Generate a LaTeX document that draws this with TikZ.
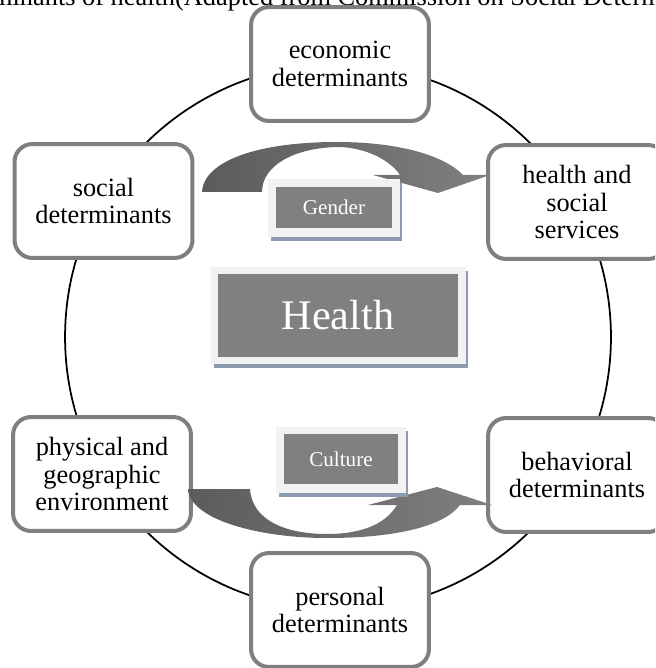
\documentclass[tikz,border=0pt]{standalone}
\usepackage{fontspec}
\setmainfont{Liberation Serif}
\usetikzlibrary{shadows}

\definecolor{boxgray}{HTML}{7F7F7F}
\definecolor{tagfill}{HTML}{808080}
\definecolor{tagframe}{HTML}{F2F2F2}
\definecolor{tagshadow}{HTML}{8D9BB0}

\begin{document}
\begin{tikzpicture}[x=0.02cm, y=-0.02cm,
  det/.style={draw=boxgray, line width=0.08cm, fill=white, rounded corners=0.36cm,
    minimum width=3.56cm, minimum height=2.28cm, inner sep=0pt, align=center,
    font=\fontsize{15}{15.5}\selectfont},
  frame/.style={fill=tagframe, inner sep=0pt,
    drop shadow={fill=tagshadow, opacity=1, shadow xshift=0.05cm, shadow yshift=-0.08cm}},
  tag/.style={fill=tagfill, text=white, inner sep=0pt, font=\fontsize{12}{14}\selectfont},
  arrowshade/.style={left color=black!64, middle color=black!56, right color=black!50}]
\useasboundingbox (0,0) rectangle (655,668);
\clip (0,0) rectangle (655,668);

\node[anchor=base, font=\fontsize{15}{15.5}\selectfont](title) at (327,6) {minants of health(Adapted from Commission on Social Determ};

\node[draw, circle, line width=1pt, minimum size=10.92cm](ring) at (338,337) {};

\node[det](econ) at (340,64) {economic\\determinants};
\node[det](soc) at (103.5,201) {social\\determinants};
\node[det](hss) at (577,202) {health and\\social\\services};
\node[det](phys) at (102,474) {physical and\\geographic\\environment};
\node[det](behav) at (577,475) {behavioral\\determinants};
\node[det](pers) at (340,610) {personal\\determinants};

\shade[arrowshade] (202,192) .. controls (204,160) and (260,142) .. (337,142)
  .. controls (400,142) and (445,156) .. (463,175)
  -- (490,175) -- (438,193) -- (373,175) -- (400,175)
  .. controls (390,160) and (365,147) .. (337,147)
  .. controls (295,148) and (262,165) .. (262,192) -- cycle;
\shade[arrowshade] (188,489) .. controls (190,520) and (260,538) .. (327,538)
  .. controls (400,538) and (445,525) .. (460,505)
  -- (492,505) -- (437,487) -- (368,505) -- (397,505)
  .. controls (385,525) and (360,534) .. (327,534)
  .. controls (285,534) and (252,520) .. (250,489) -- cycle;

\node[frame, minimum width=2.64cm, minimum height=1.16cm](G0) at (334,208) {};
\node[tag, minimum width=2.32cm, minimum height=0.82cm](G) at (334,207.5) {Gender};
\node[frame, minimum width=5.1cm, minimum height=1.94cm](H0) at (338.5,315.5) {};
\node[tag, minimum width=4.8cm, minimum height=1.66cm, font=\fontsize{24}{28}\selectfont](H) at (338,315.5) {Health};
\node[frame, minimum width=2.6cm, minimum height=1.32cm](C0) at (341,460) {};
\node[tag, minimum width=2.28cm, minimum height=1.0cm](C) at (341,459) {Culture};
\end{tikzpicture}
\end{document}
